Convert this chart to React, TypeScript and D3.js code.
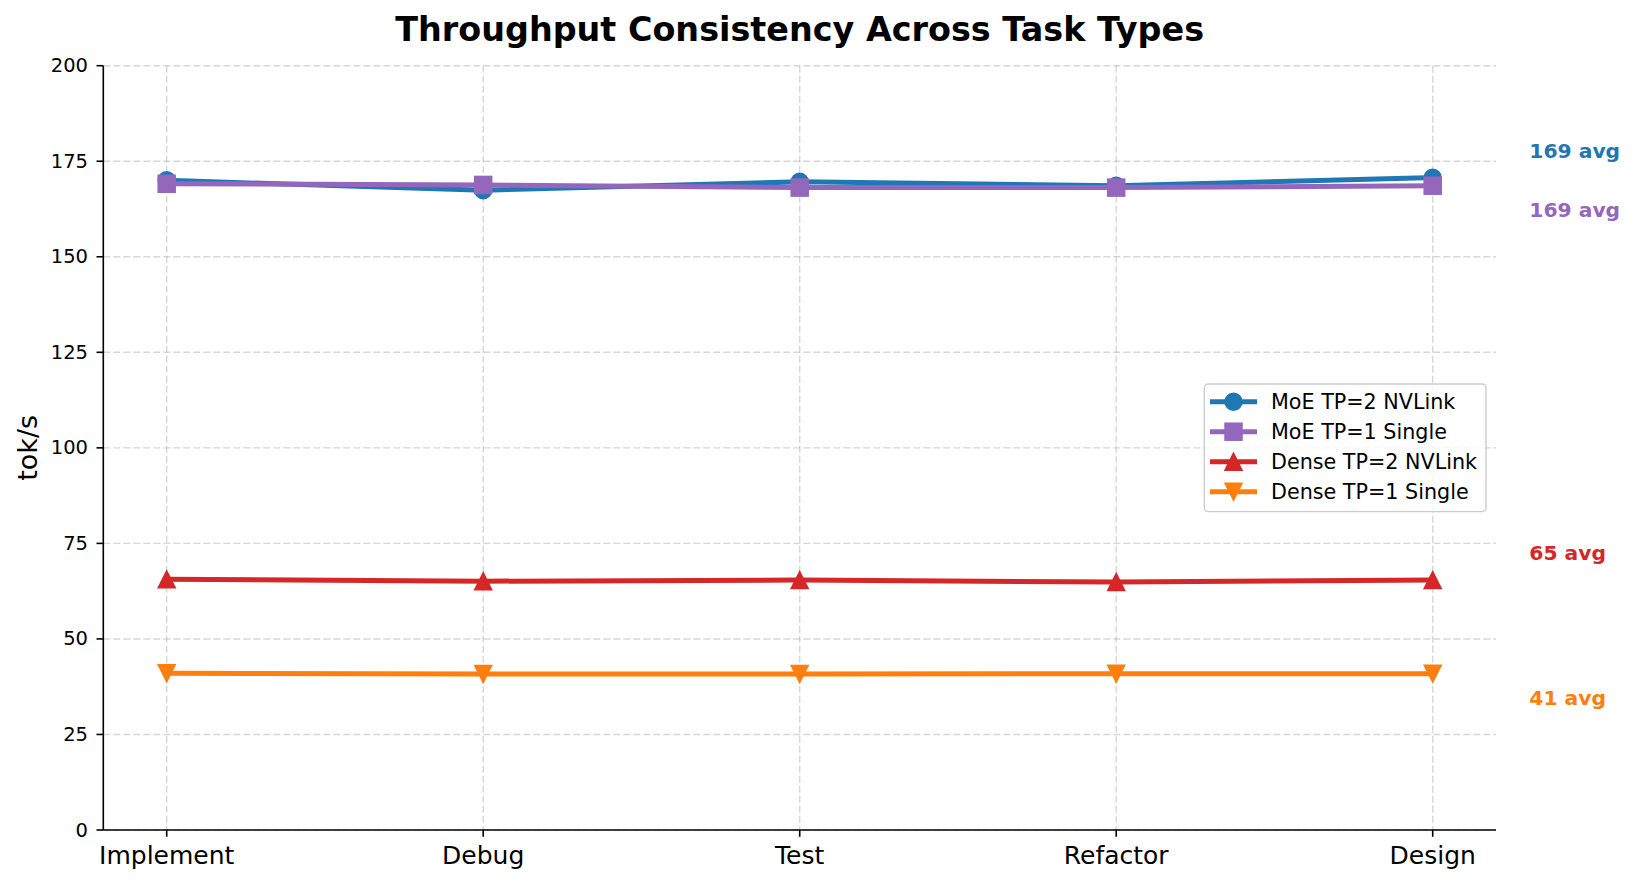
import { useEffect } from 'react'
import * as d3 from 'd3'

const TASKS = ['Implement', 'Debug', 'Test', 'Refactor', 'Design']
const MOE_TP2 = [170.0, 167.4, 169.6, 168.6, 170.7]
const MOE_TP1 = [169.1, 168.8, 168.1, 168.1, 168.6]
const DENSE_TP2 = [65.6, 65.1, 65.4, 64.9, 65.4]
const DENSE_TP1 = [41.0, 40.8, 40.8, 40.9, 40.9]
const Y_TICKS = [0, 25, 50, 75, 100, 125, 150, 175, 200]

type Marker = 'circle' | 'square' | 'triUp' | 'triDown'
const SERIES: { name: string; values: number[]; color: string; marker: Marker; labelDy: number }[] = [
  { name: 'MoE TP=2 NVLink',   values: MOE_TP2,   color: '#1f77b4', marker: 'circle',  labelDy: -32 },
  { name: 'MoE TP=1 Single',   values: MOE_TP1,   color: '#9467bd', marker: 'square',  labelDy: 24 },
  { name: 'Dense TP=2 NVLink', values: DENSE_TP2, color: '#d62728', marker: 'triUp',   labelDy: -28 },
  { name: 'Dense TP=1 Single', values: DENSE_TP1, color: '#ff7f0e', marker: 'triDown', labelDy: 24 },
]

const W = 1636
const H = 884
const M = { left: 103.3, right: 1496, top: 65.7, bottom: 830 }
const FONT = '"DejaVu Sans", sans-serif'
const MS = 17

function MarkerShape({ kind, x, y, color }: { kind: Marker; x: number; y: number; color: string }) {
  const h = MS / 2
  const common = { fill: color, stroke: color, strokeWidth: 1.5, strokeLinejoin: 'miter' as const }
  if (kind === 'circle') return <circle cx={x} cy={y} r={h} {...common} />
  if (kind === 'square') return <rect x={x - h} y={y - h} width={MS} height={MS} {...common} />
  if (kind === 'triUp') return <path d={`M${x},${y - h}L${x - h},${y + h}L${x + h},${y + h}Z`} {...common} />
  return <path d={`M${x},${y + h}L${x - h},${y - h}L${x + h},${y - h}Z`} {...common} />
}

export default function App() {
  useEffect(() => {
    document.body.style.margin = '0'
  }, [])

  const x = d3.scalePoint<string>().domain(TASKS).range([166.7, 1432.7])
  const y = d3.scaleLinear().domain([0, 200]).range([M.bottom, M.top])
  const line = d3.line<number>().x((_, i) => x(TASKS[i]) as number).y(v => y(v))

  const legendX = 1204.3
  const legendY = 384
  const rowH = 30

  return (
    <svg width={W} height={H} style={{ display: 'block', background: '#fff' }} fontFamily={FONT}>
      {/* grid */}
      {Y_TICKS.map(t => (
        <line key={'gy' + t} x1={M.left} x2={M.right} y1={y(t)} y2={y(t)}
          stroke="#b0b0b0" strokeOpacity={0.5} strokeWidth={1.4} strokeDasharray="7,3" />
      ))}
      {TASKS.map(t => (
        <line key={'gx' + t} x1={x(t)} x2={x(t)} y1={M.top} y2={M.bottom}
          stroke="#b0b0b0" strokeOpacity={0.5} strokeWidth={1.4} strokeDasharray="7,3" />
      ))}

      {/* series */}
      {SERIES.map(s => (
        <g key={s.name}>
          <path d={line(s.values) ?? ''} fill="none" stroke={s.color} strokeWidth={5} strokeLinejoin="round" strokeLinecap="square" />
          {s.values.map((v, i) => (
            <MarkerShape key={i} kind={s.marker} x={x(TASKS[i]) as number} y={y(v)} color={s.color} />
          ))}
        </g>
      ))}

      {/* avg labels */}
      {SERIES.map(s => {
        const avg = d3.mean(s.values) ?? 0
        return (
          <text key={'avg' + s.name} x={1529.3} y={y(avg) + s.labelDy} dominantBaseline="central"
            fontSize={20.3} fontWeight="bold" fill={s.color}>
            {`${Math.round(avg)} avg`}
          </text>
        )
      })}

      {/* spines */}
      <line x1={M.left} x2={M.left} y1={M.top} y2={M.bottom} stroke="#000" strokeWidth={1.6} />
      <line x1={M.left} x2={M.right} y1={M.bottom} y2={M.bottom} stroke="#000" strokeWidth={1.6} />

      {/* y ticks */}
      {Y_TICKS.map(t => (
        <g key={'yt' + t}>
          <line x1={M.left - 6.8} x2={M.left} y1={y(t)} y2={y(t)} stroke="#000" strokeWidth={1.6} />
          <text x={88} y={y(t)} textAnchor="end" dominantBaseline="central" fontSize={19.5} fill="#000">{t}</text>
        </g>
      ))}

      {/* x ticks */}
      {TASKS.map(t => (
        <g key={'xt' + t}>
          <line x1={x(t)} x2={x(t)} y1={M.bottom} y2={M.bottom + 6.8} stroke="#000" strokeWidth={1.6} />
          <text x={x(t)} y={864.3} textAnchor="middle" fontSize={25} fill="#000">{t}</text>
        </g>
      ))}

      {/* axis label + title */}
      <text transform={`translate(37,${(M.top + M.bottom) / 2}) rotate(-90)`} textAnchor="middle"
        fontSize={27} fill="#000">tok/s</text>
      <text x={(M.left + M.right) / 2} y={40.5} textAnchor="middle" fontSize={33.4} fontWeight="bold" fill="#000">
        Throughput Consistency Across Task Types
      </text>

      {/* legend */}
      <rect x={legendX} y={legendY} width={1486 - legendX} height={511.6 - legendY} rx={4}
        fill="#fff" fillOpacity={0.8} stroke="#cccccc" strokeWidth={1.4} />
      {SERIES.map((s, i) => {
        const cy = legendY + 17.7 + i * rowH
        return (
          <g key={'lg' + s.name}>
            <line x1={1210} x2={1257} y1={cy} y2={cy} stroke={s.color} strokeWidth={5} />
            <MarkerShape kind={s.marker} x={1233.5} y={cy} color={s.color} />
            <text x={1271} y={cy} dominantBaseline="central" fontSize={20.7} fill="#000">{s.name}</text>
          </g>
        )
      })}
    </svg>
  )
}
